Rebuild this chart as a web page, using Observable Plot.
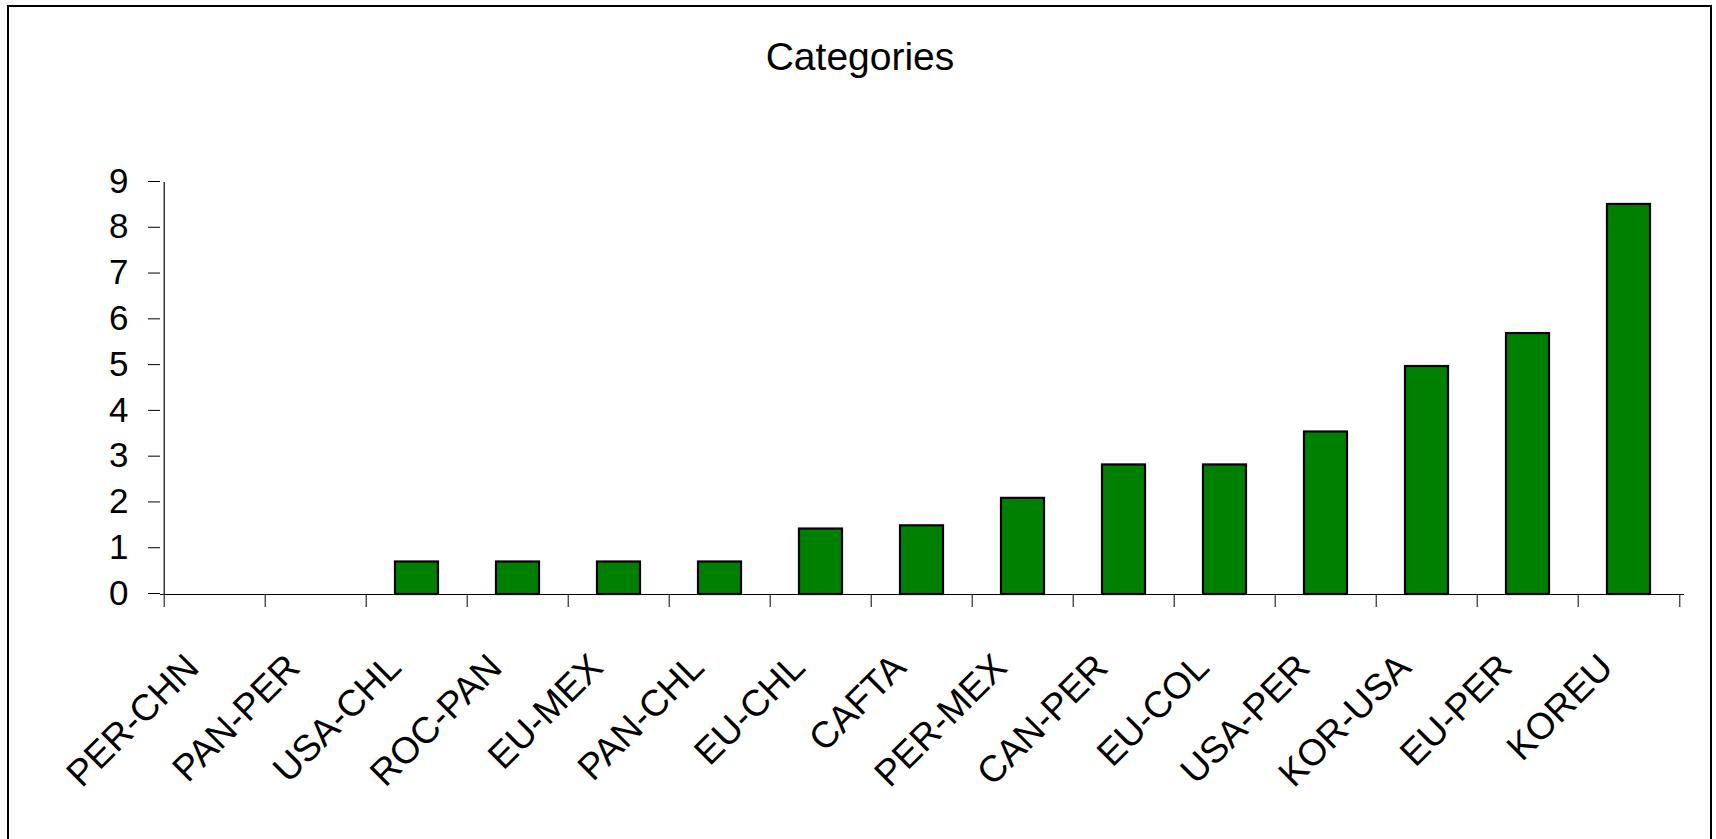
<!DOCTYPE html>
<html>
<head>
<meta charset="utf-8">
<script src="https://cdn.jsdelivr.net/npm/d3@7"></script>
<script src="https://cdn.jsdelivr.net/npm/@observablehq/plot@0.6"></script>
<style>
  html, body { margin: 0; padding: 0; background: #fff; }
  #wrap { position: relative; width: 1716px; height: 839px; overflow: hidden; background: #fff; font-family: "Liberation Sans", Arial, sans-serif; }
  #title { position: absolute; left: 0; top: 37px; width: 1720px; text-align: center; font-size: 39px; line-height: 39px; color: #000; }
  #border { position: absolute; left: 7px; top: 5px; width: 1705px; height: 900px; box-sizing: border-box; border: 2px solid #000; pointer-events: none; }
  #chart { position: absolute; left: 0; top: 0; }
</style>
</head>
<body>
<div id="wrap">
  <div id="chart"></div>
  <div id="title"></div>
  <div id="border"></div>
</div>
<script>
const title = "Categories";
const categories = ["PER-CHN","PAN-PER","USA-CHL","ROC-PAN","EU-MEX","PAN-CHL","EU-CHL","CAFTA","PER-MEX","CAN-PER","EU-COL","USA-PER","KOR-USA","EU-PER","KOREU"];
const values = [0, 0, 0.71, 0.71, 0.71, 0.71, 1.43, 1.5, 2.1, 2.83, 2.83, 3.55, 4.98, 5.7, 8.52];
const yTicks = [0, 1, 2, 3, 4, 5, 6, 7, 8, 9];

const data = categories.map((c, i) => ({category: c, value: values[i]}));

const W = 1716, H = 839, mL = 160, mR = 32, mT = 182, mB = 245;
const step = (W - mL - mR) / categories.length;

document.getElementById("title").textContent = title;

const chart = Plot.plot({
  width: W,
  height: H,
  marginLeft: mL,
  marginRight: mR,
  marginTop: mT,
  marginBottom: mB,
  style: {background: "transparent", fontFamily: "'Liberation Sans', Arial, sans-serif", color: "#000"},
  x: {type: "band", domain: categories, paddingInner: 0.572, paddingOuter: 0.286},
  y: {domain: [0, 9]},
  marks: [
    Plot.barY(data, {x: "category", y: "value", fill: "#008000", stroke: "#000", strokeWidth: 2.2}),
    Plot.ruleY([0], {stroke: "#000", strokeWidth: 1.2}),
    Plot.ruleX([categories[0]], {dx: -step / 2, y1: 0, y2: 9, stroke: "#000", strokeWidth: 1.2}),
    Plot.axisY(yTicks, {tickSize: 12, tickPadding: 20, fontSize: 35, label: null, stroke: "#000", dy: -1}),
    Plot.axisX({tickSize: 13, tickFormat: () => "", label: null, dx: -step / 2}),
    Plot.axisX([categories[categories.length - 1]], {tickSize: 13, tickFormat: () => "", label: null, dx: step / 2}),
    Plot.text(categories, {x: d => d, y: () => 0, text: d => d, rotate: -45, textAnchor: "end", lineAnchor: "bottom", fontSize: 37, dx: -14, dy: 75, fill: "#000"})
  ]
});
document.getElementById("chart").appendChild(chart);
</script>
</body>
</html>
